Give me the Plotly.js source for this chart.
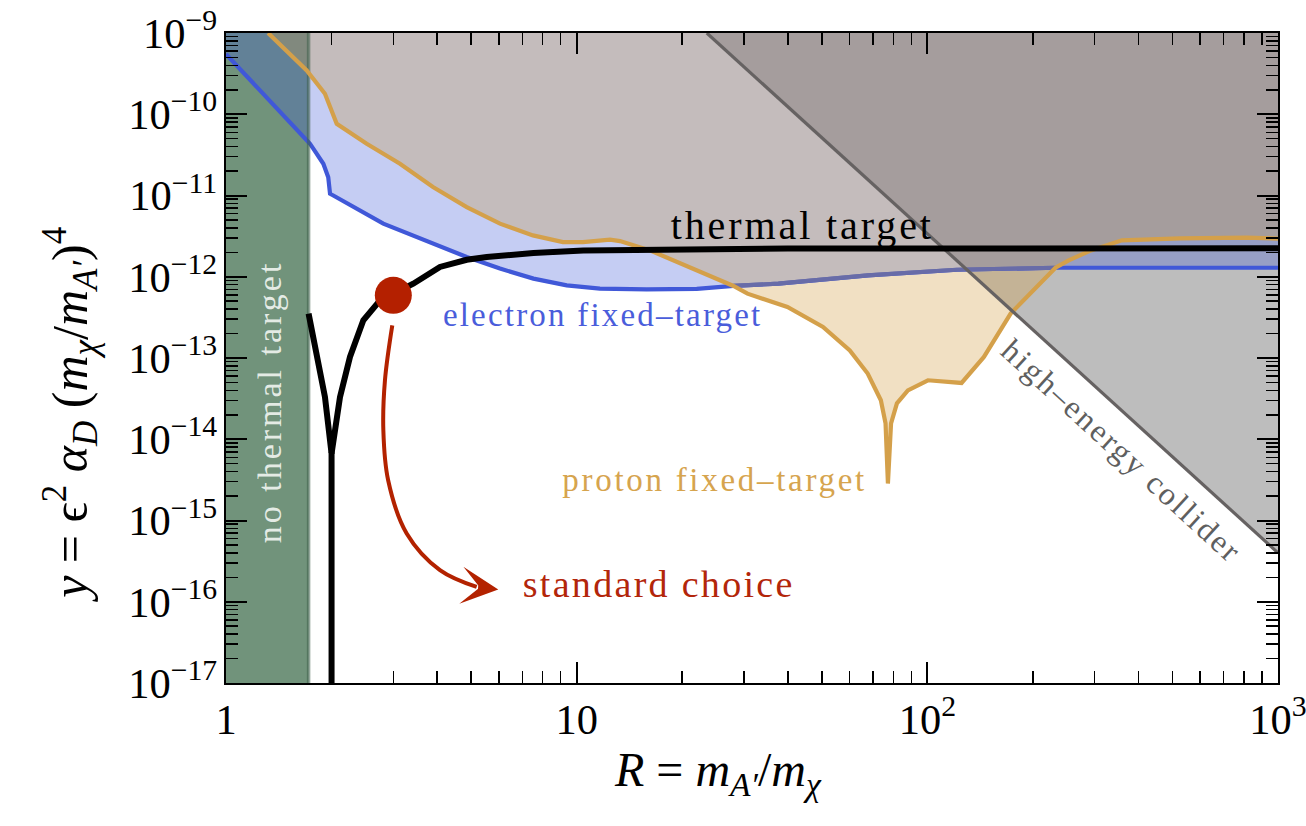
<!DOCTYPE html>
<html><head><meta charset="utf-8">
<script src="https://cdn.plot.ly/plotly-3.0.1.min.js"></script>
<style>html,body{margin:0;padding:0;background:#fff;} #chart{width:1306px;height:826px;}</style>
</head><body><div id="chart"></div>
<script>
// ---------------- data ----------------
const xRange = [1, 1000];
const yRange = [1e-17, 1e-9];
const noThermalR = [1, 1.72];
const colliderR = [23.5, 1000];
const colliderY = [1e-9, 4e-16];
const protonR = [1.318, 1.699, 1.915, 2.069, 2.519, 3.134, 3.892, 4.858, 6.043, 7.505, 9.14, 10.42, 12.45, 13.29, 16.18, 20.9, 28, 30.7, 39.9, 50.4, 60.1, 67.6, 73.7, 76.0, 77.2, 78.8, 81.9, 88.0, 100.4, 125.2, 145, 172.8, 217.9, 232, 253, 292.8, 358.7, 525, 815, 1000];
const protonY = [1e-9, 3.46e-10, 1.79e-10, 7.64e-11, 4.34e-11, 2.46e-11, 1.27e-11, 7.2e-12, 4.5e-12, 3.23e-12, 2.67e-12, 2.67e-12, 2.86e-12, 2.75e-12, 2.11e-12, 1.32e-12, 7.7e-13, 6.2e-13, 4.24e-13, 2.41e-13, 1.24e-13, 6.43e-14, 3.02e-14, 1.57e-14, 2.85e-15, 1.57e-14, 2.77e-14, 4.0e-14, 5.32e-14, 4.93e-14, 1.03e-13, 3.52e-13, 9.9e-13, 1.29e-12, 1.59e-12, 2.11e-12, 2.81e-12, 2.97e-12, 3.03e-12, 2.95e-12];
const electronR = [1, 1.306, 1.736, 1.895, 1.957, 1.98, 2.023, 2.809, 3.90, 4.858, 6.043, 7.53, 9.37, 11.65, 15.84, 22, 28, 37.6, 67.7, 121.4, 232, 1000];
const electronY = [5.5e-10, 1.6e-10, 4.34e-11, 2.46e-11, 1.68e-11, 1.05e-11, 1.0e-11, 4.5e-12, 2.55e-12, 1.75e-12, 1.26e-12, 9.48e-13, 7.84e-13, 7.14e-13, 7.0e-13, 7.1e-13, 7.7e-13, 8.22e-13, 1.04e-12, 1.22e-12, 1.29e-12, 1.29e-12];
const crossingR = [28, 232];
const thermalLeftR = [1.72, 1.814, 1.915, 1.98, 2.0, 2.0];
const thermalLeftY = [3.52e-13, 1.13e-13, 3.31e-14, 9.7e-15, 6.67e-15, 1e-17];
const thermalRightR = [2.0, 2.114, 2.257, 2.464, 2.749, 3.42, 4.075, 4.858, 5.54, 7.53, 10.44, 16.18, 40, 1000];
const thermalRightY = [6.67e-15, 3.31e-14, 1.03e-13, 2.91e-13, 5.13e-13, 8.22e-13, 1.32e-12, 1.62e-12, 1.75e-12, 1.96e-12, 2.11e-12, 2.17e-12, 2.22e-12, 2.24e-12];
const standardR = [3.0];
const standardY = [5.9e-13];
const arrowR = [2.98, 2.84, 2.81, 2.90, 3.275, 4.075, 5.186, 5.977];
const arrowY = [2.52e-13, 5.32e-14, 1.29e-14, 3.13e-15, 6.92e-16, 2.45e-16, 1.52e-16, 1.42e-16];

// ---------------- helpers ----------------
const L = v => Math.round(Math.log10(v) * 1e9) / 1e9;
function pts(xs, ys, lo, hi) { const o = []; for (let i = 0; i < xs.length; i++) if (xs[i] >= lo && xs[i] <= hi) o.push([xs[i], ys[i]]); return o; }
const rev = a => a.slice().reverse();
function poly(...groups) {
  const x = [], y = [];
  groups.forEach((g, k) => { if (k > 0) { x.push(null); y.push(null); } g.forEach(p => { x.push(p[0]); y.push(p[1]); }); });
  return {x, y};
}
const [c0, c1] = crossingR;
const pLow = pts(protonR, protonY, 0, c0), pMid = pts(protonR, protonY, c0, c1), pHigh = pts(protonR, protonY, c1, Infinity);
const eLow = pts(electronR, electronY, 0, c0), eMid = pts(electronR, electronY, c0, c1), eHigh = pts(electronR, electronY, c1, Infinity);
const xMin = xRange[0], xMax = xRange[1], yBot = yRange[0], yTop = yRange[1];

const greenPoly = poly([[noThermalR[0], yBot], [noThermalR[1], yBot], [noThermalR[1], yTop], [noThermalR[0], yTop]]);
const colliderPoly = poly([[colliderR[0], colliderY[0]], [colliderR[1], colliderY[1]], [xMax, yTop]]);
const bluePoly = poly([[xMin, yTop], ...pLow, ...rev(eLow)], [...pHigh, ...rev(eHigh)]);
const tanPoly = poly([...pMid, ...rev(eMid)]);
const grayPoly = poly([[xMin, yTop], [xMax, yTop], ...rev(pHigh), ...rev(eMid), ...rev(pLow)]);

function fillTrace(p, color) { return {x: p.x, y: p.y, mode: 'lines', fill: 'toself', fillcolor: color, line: {width: 0}, hoverinfo: 'skip'}; }
function lineTrace(x, y, color, w, shape) { return {x, y, mode: 'lines', line: {color, width: w, shape: shape || 'linear'}, hoverinfo: 'skip'}; }

const traces = [
  fillTrace(greenPoly, 'rgb(113,147,123)'),
  fillTrace(colliderPoly, 'rgba(128,128,128,0.52)'),
  fillTrace(bluePoly, 'rgba(64,88,216,0.30)'),
  fillTrace(tanPoly, 'rgba(212,160,74,0.33)'),
  lineTrace(electronR, electronY, 'rgb(64,88,216)', 4.2),
  fillTrace(grayPoly, 'rgba(144,128,128,0.53)'),
  lineTrace(eMid.map(p => p[0]), eMid.map(p => p[1]), 'rgb(104,108,168)', 4.2),
  lineTrace([noThermalR[1], noThermalR[1]], [yBot, yTop], 'rgba(60,95,72,0.55)', 3.5),
  lineTrace(protonR, protonY, 'rgb(212,160,74)', 4.2),
  lineTrace(colliderR, colliderY, 'rgb(102,98,98)', 3.2),
  lineTrace(thermalLeftR, thermalLeftY, 'black', 6),
  lineTrace(thermalRightR, thermalRightY, 'black', 6),
  lineTrace(arrowR.slice(0, -1), arrowY.slice(0, -1), 'rgb(179,34,0)', 4, 'spline'),
  {x: standardR, y: standardY, mode: 'markers', marker: {size: 37, color: 'rgb(180,32,0)'}, hoverinfo: 'skip'}
];

const serif = 'Liberation Serif, Times New Roman, serif';
function lab(text, xv, yv, size, color, angle) {
  return {text, x: L(xv), y: L(yv), xref: 'x', yref: 'y', showarrow: false, xanchor: 'center', yanchor: 'middle',
          textangle: angle || 0, font: {family: serif, size, color}};
}
const n = arrowR.length;
const annotations = [
  lab('thermal target', 44.2, 4.3e-12, 40, 'black'),
  lab('electron fixed\u2013target', 11.84, 3.35e-13, 33, 'rgb(74,93,219)'),
  lab('proton fixed\u2013target', 24.8, 3.13e-15, 33, 'rgb(214,164,78)'),
  lab('standard choice', 17.17, 1.64e-16, 38, 'rgb(179,38,10)'),
  lab('no thermal target', 1.335, 2.89e-14, 34, 'rgba(240,245,240,0.92)', -90),
  lab('high\u2013energy collider', 358.9, 7.11e-15, 32, 'rgb(95,95,95)', 42.5),
  {x: L(arrowR[n - 1]), y: L(arrowY[n - 1]), ax: L(arrowR[n - 2]), ay: L(arrowY[n - 2]), xref: 'x', yref: 'y', axref: 'x', ayref: 'y',
   text: '', showarrow: true, arrowhead: 3, arrowsize: 1.55, arrowwidth: 4, arrowcolor: 'rgb(179,34,0)', standoff: 0},
  {text: '<i>R</i> = <i>m<sub>A\u2032</sub></i>/<i>m<sub>\u03c7</sub></i>', xref: 'paper', yref: 'paper', x: 0.468, y: -0.138,
   showarrow: false, xanchor: 'center', yanchor: 'middle', font: {family: serif, size: 48, color: 'black'}},
  {text: '<i>y</i> = \u03f5<sup>2</sup> <i>\u03b1<sub>D</sub></i> (<i>m<sub>\u03c7</sub></i>/<i>m<sub>A\u2032</sub></i>)<sup>4</sup>', xref: 'paper', yref: 'paper',
   x: -0.148, y: 0.413, textangle: -90, showarrow: false, xanchor: 'center', yanchor: 'middle', font: {family: serif, size: 50, color: 'black'}}
];

function axis(range) {
  return {
    type: 'log', range: [L(range[0]), L(range[1])], showline: true, linewidth: 2, linecolor: 'black', mirror: 'allticks',
    ticks: 'inside', ticklen: 21, tickwidth: 2, tickcolor: 'black', dtick: 1, exponentformat: 'power', ticklabeloverflow: 'allow',
    tickfont: {family: serif, size: 34, color: 'black'}, showgrid: false, zeroline: false,
    minor: {ticks: 'inside', ticklen: 12, tickwidth: 1.5, tickcolor: 'black', dtick: 'D1', showgrid: false}
  };
}
const layout = {
  width: 1306, height: 826, margin: {l: 226, r: 28, t: 33, b: 143},
  paper_bgcolor: 'white', plot_bgcolor: 'white', showlegend: false, hovermode: false,
  xaxis: axis(xRange),
  yaxis: axis(yRange),
  annotations
};
const spacing = {0: 2.9, 1: 2.2, 2: 2.7, 3: 2.3, 4: 3.0, 5: 2.4};
Plotly.newPlot('chart', traces, layout, {staticPlot: true}).then(() => {
  document.querySelectorAll('g.annotation').forEach(g => {
    const i = +g.getAttribute('data-index');
    if (spacing[i]) g.querySelectorAll('text').forEach(t => { t.style.letterSpacing = spacing[i] + 'px'; });
  });
});
</script></body></html>
